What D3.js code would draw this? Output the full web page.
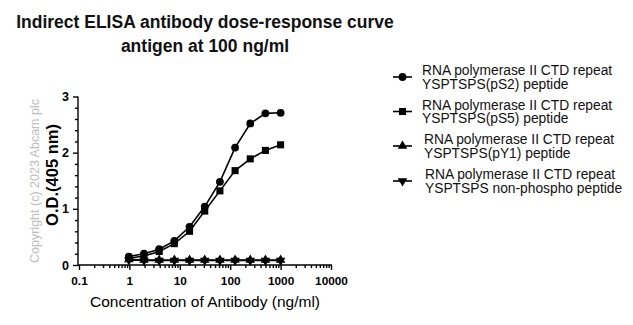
<!DOCTYPE html>
<html>
<head>
<meta charset="utf-8">
<script src="https://cdn.jsdelivr.net/npm/d3@7"></script>
<style>
  html, body { margin: 0; padding: 0; background: #fff; }
  svg { display: block; font-family: "Liberation Sans", Arial, sans-serif; }
</style>
</head>
<body>
<svg id="chart" width="633" height="325"></svg>
<script>
// Antibody concentrations (ng/ml), two-fold dilution series
const concentrations = [0.977, 1.95, 3.9, 7.8, 15.6, 31.25, 62.5, 125, 250, 500, 1000];

// O.D. at 405 nm for each peptide antigen
const odPS2 = [0.15, 0.20, 0.28, 0.43, 0.68, 1.04, 1.48, 2.09, 2.52, 2.70, 2.71];
const odPS5 = [0.12, 0.16, 0.24, 0.38, 0.60, 0.96, 1.32, 1.68, 1.89, 2.04, 2.14];
const odPY1 = [0.10, 0.09, 0.09, 0.09, 0.09, 0.09, 0.09, 0.09, 0.09, 0.09, 0.09];
const odNonPhospho = [0.09, 0.08, 0.08, 0.08, 0.08, 0.08, 0.08, 0.08, 0.08, 0.08, 0.08];

const xTickValues = [0.1, 1, 10, 100, 1000, 10000];
const xTickLabels = ["0.1", "1", "10", "100", "1000", "10000"];
const yTickValues = [0, 1, 2, 3];

const seriesNames = [
  ["RNA polymerase II CTD repeat", "YSPTSPS(pS2) peptide"],
  ["RNA polymerase II CTD repeat", "YSPTSPS(pS5) peptide"],
  ["RNA polymerase II CTD repeat", "YSPTSPS(pY1) peptide"],
  ["RNA polymerase II CTD repeat", "YSPTSPS non-phospho peptide"]
];
const seriesValues = [odPS2, odPS5, odPY1, odNonPhospho];
const seriesSymbols = [d3.symbolCircle, d3.symbolSquare, d3.symbolTriangle, d3.symbolTriangle];
const symbolSizes = [48, 50, 40, 40];
const symbolRotations = [0, 0, 0, 180];

const svg = d3.select("#chart");

const x = d3.scaleLog().domain([0.1, 10000]).range([79, 331]);
const y = d3.scaleLinear().domain([0, 3]).range([265, 96.5]);

// Title
svg.append("text").attr("x", 205).attr("y", 28).attr("text-anchor", "middle")
  .attr("font-size", 17.5).attr("font-weight", "bold").attr("fill", "#111")
  .text("Indirect ELISA antibody dose-response curve");
svg.append("text").attr("x", 205).attr("y", 52).attr("text-anchor", "middle")
  .attr("font-size", 17.5).attr("font-weight", "bold").attr("fill", "#111")
  .text("antigen at 100 ng/ml");

// Copyright watermark
svg.append("text")
  .attr("transform", "translate(39,181) rotate(-90)")
  .attr("text-anchor", "middle").attr("font-size", 12.5).attr("fill", "#bdbdbd")
  .text("Copyright (c) 2023 Abcam plc");

// Y axis with minor ticks
const yMinor = d3.range(0, 3.0001, 0.2).filter(v => Math.abs(v - Math.round(v)) > 1e-6);
const yAxisG = svg.append("g").attr("transform", "translate(78,0)");
yAxisG.call(d3.axisLeft(y).tickValues(yMinor).tickSize(3).tickFormat(""))
  .call(g => g.select(".domain").remove());
const yMajor = svg.append("g").attr("transform", "translate(78,0)")
  .call(d3.axisLeft(y).tickValues(yTickValues).tickSize(5).tickSizeOuter(0).tickFormat(d3.format("d")));
yMajor.selectAll("text").attr("font-size", 12.5).attr("font-weight", "bold")
  .attr("font-family", "Liberation Sans, Arial, sans-serif").attr("fill", "#000").attr("dx", "-1");

// X axis (log) with minor ticks
const xMinor = [];
for (let dec = 0.1; dec < 10000; dec *= 10) {
  for (let k = 2; k <= 9; k++) xMinor.push(dec * k);
}
const xMinorG = svg.append("g").attr("transform", "translate(0,265)")
  .call(d3.axisBottom(x).tickValues(xMinor).tickSize(3).tickFormat(""));
xMinorG.select(".domain").remove();
const xMajor = svg.append("g").attr("transform", "translate(0,265)")
  .call(d3.axisBottom(x).tickValues(xTickValues).tickSize(5).tickSizeOuter(0)
    .tickFormat((d, i) => xTickLabels[i]));
svg.selectAll(".tick line, .domain").attr("stroke", "#000").attr("stroke-width", 1.4);
xMajor.selectAll("text").attr("font-size", 11.8).attr("font-weight", "bold")
  .attr("font-family", "Liberation Sans, Arial, sans-serif").attr("fill", "#000").attr("dy", "1.05em");
xMajor.select(".domain").attr("d", `M${x(0.1) - 1},0H${x(10000) + 1}`);
yMajor.select(".domain").attr("d", `M0,${y(0) + 0.7}V${y(3)}`);

// Axis titles
svg.append("text")
  .attr("transform", "translate(58,175) rotate(-90)")
  .attr("text-anchor", "middle").attr("font-size", 16.5).attr("font-weight", "bold").attr("fill", "#000")
  .text("O.D.(405 nm)");
svg.append("text").attr("x", 205).attr("y", 307).attr("text-anchor", "middle")
  .attr("font-size", 15.5).attr("fill", "#000")
  .text("Concentration of Antibody (ng/ml)");

// Curves and markers; low series drawn first so upper curves sit on top
const line = d3.line().x(d => x(d[0])).y(d => y(d[1]));
const drawOrder = [3, 2, 1, 0];
drawOrder.forEach(si => {
  const pts = concentrations.map((c, i) => [c, seriesValues[si][i]]);
  svg.append("path").datum(pts).attr("d", line)
    .attr("fill", "none").attr("stroke", "#000").attr("stroke-width", 1.6);
  svg.append("g").selectAll("path").data(pts).join("path")
    .attr("transform", d => `translate(${x(d[0])},${y(d[1])}) rotate(${symbolRotations[si]})`)
    .attr("d", d3.symbol().type(seriesSymbols[si]).size(symbolSizes[si]))
    .attr("fill", "#000");
});

// Legend
const legendRows = [
  { my: 77, tx: 422 },
  { my: 111.5, tx: 422 },
  { my: 146, tx: 424 },
  { my: 181, tx: 425 }
];
legendRows.forEach((r, si) => {
  const g = svg.append("g");
  g.append("line").attr("x1", 393).attr("x2", 412).attr("y1", r.my).attr("y2", r.my)
    .attr("stroke", "#000").attr("stroke-width", 1.6);
  g.append("path").attr("transform", `translate(402.5,${r.my}) rotate(${symbolRotations[si]})`)
    .attr("d", d3.symbol().type(seriesSymbols[si]).size(symbolSizes[si])).attr("fill", "#000");
  seriesNames[si].forEach((t, li) => {
    g.append("text").attr("x", r.tx).attr("y", r.my - 2 + li * 13.8)
      .attr("font-size", 13.8).attr("fill", "#111").text(t);
  });
});
</script>
</body>
</html>
